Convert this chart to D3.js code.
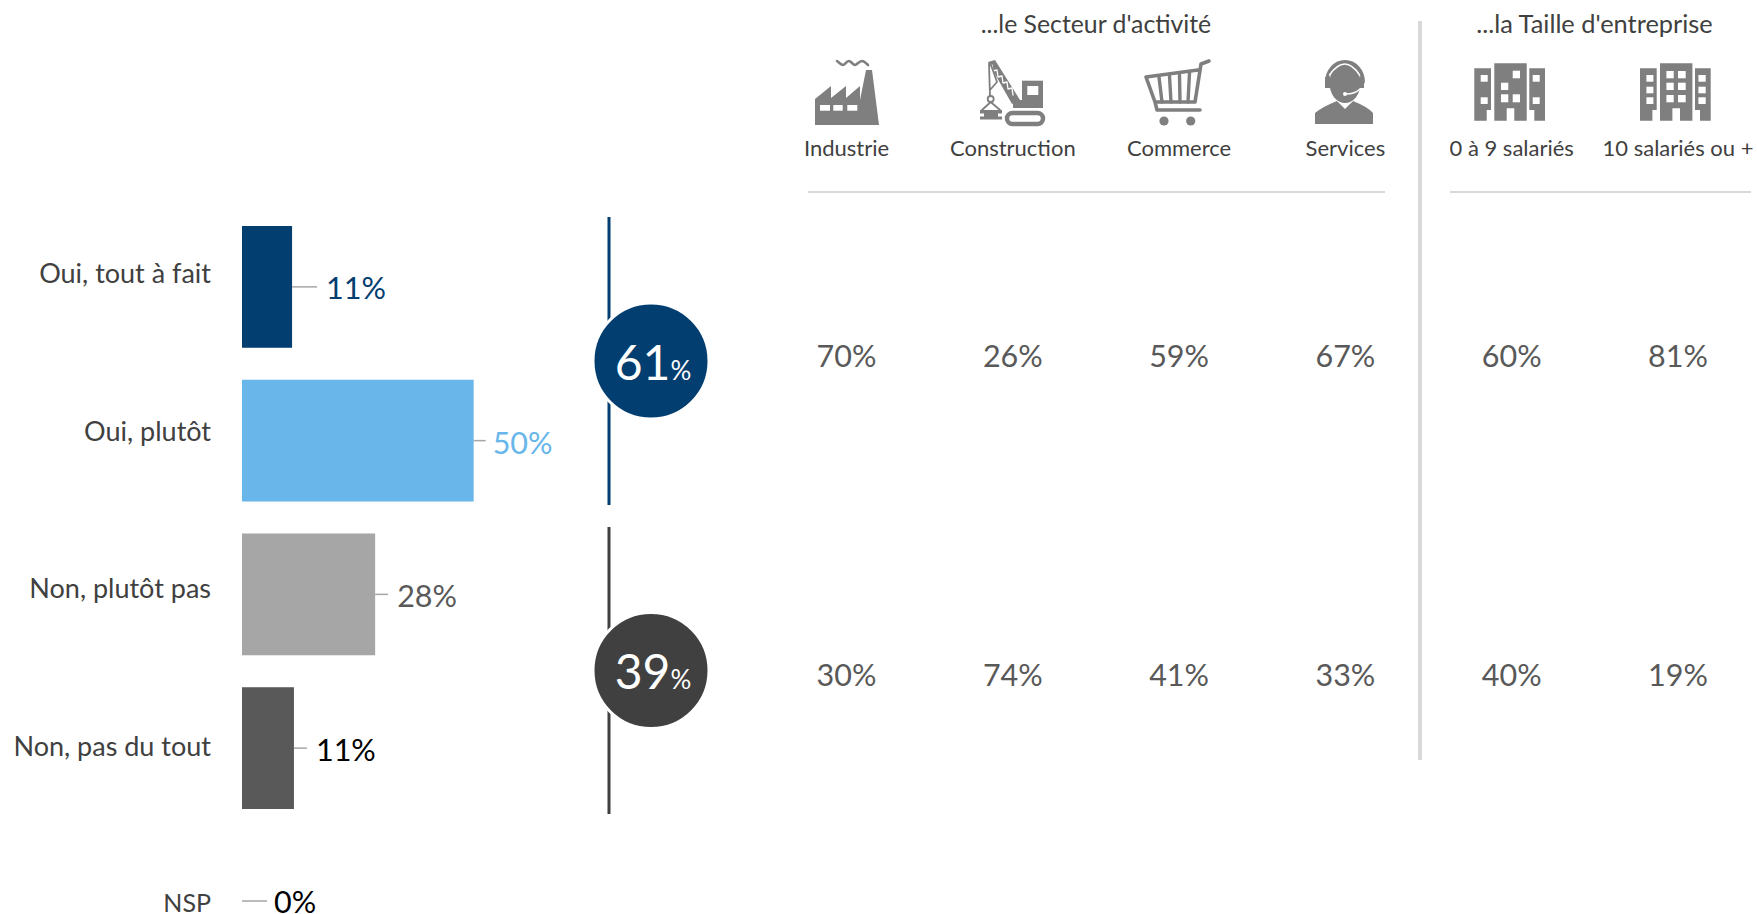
<!DOCTYPE html>
<html>
<head>
<meta charset="utf-8">
<script src="https://cdn.jsdelivr.net/npm/d3@7"></script>
<style>
  html, body { margin: 0; padding: 0; background: #fff; }
  svg { display: block; }
  text { font-family: Lato, "Open Sans", sans-serif; }
</style>
</head>
<body>
<svg id="chart" width="1757" height="914"></svg>
<script>
var answers = ["Oui, tout à fait", "Oui, plutôt", "Non, plutôt pas", "Non, pas du tout"];
var answerValues = [10.7, 49.5, 28.45, 11.1];
var nspLabel = "NSP";
var nspValue = 0;

var groups = ["Oui", "Non"];
var groupTotals = [61, 39];

var sectors = ["Industrie", "Construction", "Commerce", "Services", "0 à 9 salariés", "10 salariés ou +"];
var ouiBySector = [70, 26, 59, 67, 60, 81];
var nonBySector = [30, 74, 41, 33, 40, 19];

var svg = d3.select("#chart");

var x = d3.scaleLinear().domain([0, 100]).range([242, 710]);
var y = d3.scaleBand().domain(answers).range([226, 809]).paddingInner(0.208);
var col = d3.scalePoint().domain(sectors).range([846.5, 1678]);

var barColors = ["#023e70", "#68b6ea", "#a6a6a6", "#595959"];
var valueColors = ["#023e70", "#68b6ea", "#595959", "#000000"];
var leaderLength = [25, 12, 13, 13];
var labelGap = [9, 7, 9, 9];
var labelY = [274, 432, 589, 747];
var valueY = [288, 443, 596, 750];
var dark = "#404040";
var iconGrey = "#7f7f7f";

// bars
svg.selectAll("rect.bar")
  .data(answers)
  .enter().append("rect")
  .attr("class", "bar")
  .attr("x", x(0))
  .attr("y", function (d) { return y(d); })
  .attr("width", function (d, i) { return x(answerValues[i]) - x(0); })
  .attr("height", y.bandwidth())
  .attr("fill", function (d, i) { return barColors[i]; });

// leader lines
svg.selectAll("line.leader")
  .data(answers)
  .enter().append("line")
  .attr("class", "leader")
  .attr("x1", function (d, i) { return x(answerValues[i]); })
  .attr("x2", function (d, i) { return x(answerValues[i]) + leaderLength[i]; })
  .attr("y1", function (d) { return y(d) + y.bandwidth() / 2; })
  .attr("y2", function (d) { return y(d) + y.bandwidth() / 2; })
  .attr("stroke", "#a6a6a6")
  .attr("stroke-width", 1.5);

// value labels
svg.selectAll("text.value")
  .data(answers)
  .enter().append("text")
  .attr("class", "value")
  .attr("x", function (d, i) { return x(answerValues[i]) + leaderLength[i] + labelGap[i]; })
  .attr("y", function (d, i) { return valueY[i]; })
  .attr("dy", "0.35em")
  .attr("font-size", 30.5)
  .attr("fill", function (d, i) { return valueColors[i]; })
  .text(function (d, i) { return d3.format(".0f")(answerValues[i]) + "%"; });

// category labels
svg.selectAll("text.answer")
  .data(answers)
  .enter().append("text")
  .attr("class", "answer")
  .attr("x", 211)
  .attr("y", function (d, i) { return labelY[i]; })
  .attr("dy", "0.35em")
  .attr("text-anchor", "end")
  .attr("font-size", 27)
  .attr("fill", dark)
  .text(function (d) { return d; });

// NSP row
svg.append("text").attr("x", 211).attr("y", 903).attr("dy", "0.35em")
  .attr("text-anchor", "end").attr("font-size", 25).attr("fill", dark).text(nspLabel);
svg.append("line").attr("x1", x(nspValue)).attr("x2", x(nspValue) + 25)
  .attr("y1", 901).attr("y2", 901)
  .attr("stroke", "#a6a6a6").attr("stroke-width", 1.5);
svg.append("text").attr("x", x(nspValue) + 32).attr("y", 902).attr("dy", "0.35em")
  .attr("font-size", 30.5).attr("fill", "#000").text(d3.format(".0f")(nspValue) + "%");

// total brackets and circles
var bracketTop = [217, 527];
var bracketBottom = [505, 814];
var circleY = [361, 670.5];
var circleColors = ["#023e70", dark];

svg.selectAll("line.bracket")
  .data(groups)
  .enter().append("line")
  .attr("class", "bracket")
  .attr("x1", 609).attr("x2", 609)
  .attr("y1", function (d, i) { return bracketTop[i]; })
  .attr("y2", function (d, i) { return bracketBottom[i]; })
  .attr("stroke", function (d, i) { return circleColors[i]; })
  .attr("stroke-width", 3);

svg.selectAll("circle.total")
  .data(groups)
  .enter().append("circle")
  .attr("class", "total")
  .attr("cx", 651)
  .attr("cy", function (d, i) { return circleY[i]; })
  .attr("r", 58)
  .attr("fill", function (d, i) { return circleColors[i]; })
  .attr("stroke", "#fff")
  .attr("stroke-width", 3);

var totals = svg.selectAll("text.total")
  .data(groups)
  .enter().append("text")
  .attr("class", "total")
  .attr("x", 653)
  .attr("y", function (d, i) { return circleY[i] + 2; })
  .attr("dy", "0.35em")
  .attr("text-anchor", "middle")
  .attr("fill", "#fff")
  .attr("font-size", 48)
  .text(function (d, i) { return groupTotals[i]; });
totals.append("tspan").attr("font-size", 26).text("%");

// table on the right
svg.append("text").attr("x", 1096).attr("y", 24).attr("dy", "0.35em")
  .attr("text-anchor", "middle").attr("font-size", 24.8).attr("fill", dark).text("...le Secteur d'activité");
svg.append("text").attr("x", 1594.5).attr("y", 24).attr("dy", "0.35em")
  .attr("text-anchor", "middle").attr("font-size", 25.4).attr("fill", dark).text("...la Taille d'entreprise");

svg.selectAll("text.sector")
  .data(sectors)
  .enter().append("text")
  .attr("class", "sector")
  .attr("x", function (d) { return col(d); })
  .attr("y", 148)
  .attr("dy", "0.35em")
  .attr("text-anchor", "middle")
  .attr("font-size", 22)
  .attr("fill", dark)
  .text(function (d) { return d; });

[ouiBySector, nonBySector].forEach(function (row, r) {
  svg.selectAll("text.row" + r)
    .data(sectors)
    .enter().append("text")
    .attr("class", "row" + r)
    .attr("x", function (d) { return col(d); })
    .attr("y", r === 0 ? 356 : 675)
    .attr("dy", "0.35em")
    .attr("text-anchor", "middle")
    .attr("font-size", 30.5)
    .attr("fill", "#595959")
    .text(function (d, i) { return row[i] + "%"; });
});

// separators
svg.append("line").attr("x1", 808).attr("x2", 1385).attr("y1", 192).attr("y2", 192)
  .attr("stroke", "#d9d9d9").attr("stroke-width", 2);
svg.append("line").attr("x1", 1450).attr("x2", 1751).attr("y1", 192).attr("y2", 192)
  .attr("stroke", "#d9d9d9").attr("stroke-width", 2);
svg.append("line").attr("x1", 1420).attr("x2", 1420).attr("y1", 21).attr("y2", 760)
  .attr("stroke", "#d9d9d9").attr("stroke-width", 4);

// icons, each drawn in its own 90x90 box
function shape(g, d, fill, stroke, width) {
  return g.append("path").attr("d", d)
    .attr("fill", fill || "none")
    .attr("stroke", stroke || "none")
    .attr("stroke-width", width || 0)
    .attr("stroke-linecap", "round")
    .attr("stroke-linejoin", "round");
}

function box(g, x0, y0, x1, y1, fill) {
  g.append("rect").attr("x", x0).attr("y", y0)
    .attr("width", x1 - x0).attr("height", y1 - y0)
    .attr("fill", fill);
}

function factory(g) {
  shape(g, "M10 75L10 49L26 36L26 48L41 36L41 48L55 36L55 50L61 20L67 20L74 75Z", iconGrey);
  box(g, 15, 55, 25, 60.7, "#fff");
  box(g, 28.3, 55, 37.7, 60.7, "#fff");
  box(g, 42.3, 55, 52.3, 60.7, "#fff");
  shape(g, "M32 11C35 13 36 15 38 15C40 15 41 11 44 11C46 11 48 15 50 15C52 15 54 11 57 11C59 11 61 13 63 15", null, iconGrey, 2.6);
}

function crane(g) {
  // tracks
  g.append("rect").attr("x", 37).attr("y", 63).attr("width", 36).attr("height", 11).attr("rx", 5.5)
    .attr("fill", "none").attr("stroke", iconGrey).attr("stroke-width", 4.5);
  // cab
  box(g, 52, 30.7, 73, 58, iconGrey);
  box(g, 43, 50, 73, 58, iconGrey);
  box(g, 57.3, 36, 68.3, 45, "#fff");
  // boom
  shape(g, "M18 12L25 10L50 50L42 54Z", iconGrey);
  shape(g, "M22 15L23 21L27 20L28 27L32 26L33 33L37 32L38 39L42 38L43 45", null, "#fff", 1.3);
  // cable and hook
  shape(g, "M19 14L20 46M21 15L27 32L20 40", null, iconGrey, 1.8);
  g.append("circle").attr("cx", 20.7).attr("cy", 49).attr("r", 3)
    .attr("fill", "none").attr("stroke", iconGrey).attr("stroke-width", 1.8);
  shape(g, "M12 60L20.7 52L30 60", null, iconGrey, 1.8);
  // load
  box(g, 10, 60, 32, 63.5, iconGrey);
  box(g, 14, 63, 28, 67, iconGrey);
  box(g, 10, 66.5, 32, 69.5, iconGrey);
}

function cart(g) {
  shape(g, "M11 27L63 20M11 27L20 52L60 52M74 11L66 14L60 52M20 52L22 60L65 60", null, iconGrey, 3.6);
  shape(g, "M24 27L27 52M34.5 26L36 52M44.5 25L45 52M54.5 23L53 52", null, iconGrey, 3.4);
  g.append("circle").attr("cx", 29).attr("cy", 71).attr("r", 4.6).attr("fill", iconGrey);
  g.append("circle").attr("cx", 55.7).attr("cy", 71).attr("r", 4.6).attr("fill", iconGrey);
}

function agent(g) {
  shape(g, "M15 74L15 63Q22 57 37 51L45 59L53 51Q68 57 73 63L73 74Z", iconGrey);
  shape(g, "M37 50L45 57L53 50", null, "#fff", 1.1);
  g.append("ellipse").attr("cx", 45).attr("cy", 33).attr("rx", 15.5).attr("ry", 20).attr("fill", iconGrey);
  shape(g, "M27 32A18 20 0 0 1 63 32", null, iconGrey, 3.8);
  box(g, 25, 27, 30, 38, iconGrey);
  box(g, 60, 27, 64, 38, iconGrey);
  shape(g, "M29.5 25Q45 3 59.5 25", null, "#fff", 1.4);
  shape(g, "M46 44Q55 44 60 39", null, "#fff", 1.4);
  g.append("circle").attr("cx", 45).attr("cy", 44).attr("r", 2).attr("fill", "#fff");
}

function buildings(g, dx, windows) {
  var b = g.append("g").attr("transform", "translate(" + dx + ",0)");
  shape(b, "M9.3 18.3H26V60H21.7V70.7H9.3Z", iconGrey);
  shape(b, "M29.3 13.3H61.7V70.7H49.3V58.3H41.7V70.7H29.3Z", iconGrey);
  shape(b, "M64.3 18.3H80V70.7H69.3V60H64.3Z", iconGrey);
  windows.forEach(function (w) { box(b, w[0], w[1], w[2], w[3], "#fff"); });
}

var smallWindows = [
  [15.7, 25, 22.7, 31.7], [15.7, 47.3, 22.7, 54],
  [47.7, 20.7, 55, 28.3], [36, 32.7, 43.3, 40], [36, 44.3, 43.3, 52.3], [47.7, 44.3, 55, 52.3],
  [67.7, 25, 74.7, 31.7], [67.7, 47.3, 74.7, 54]
];
var largeWindows = [
  [15.7, 25, 22.7, 31.7], [15.7, 36.7, 22.7, 43.3], [15.7, 47.3, 22.7, 54],
  [35.7, 21, 43, 28.3], [47.3, 21, 55, 28.3],
  [35.7, 32.7, 43, 40], [47.3, 32.7, 55, 40],
  [35.7, 45, 43, 52.3], [47.3, 45, 55, 52.3],
  [67.7, 25, 75, 31.7], [67.7, 36.7, 75, 43.3], [67.7, 47.3, 75, 54]
];

var iconOrigin = [805, 970, 1135, 1300, 1465, 1630];
var iconDraw = [factory, crane, cart, agent,
  function (g) { buildings(g, 0, smallWindows); },
  function (g) { buildings(g, 0.7, largeWindows); }];

svg.selectAll("g.icon")
  .data(sectors)
  .enter().append("g")
  .attr("class", "icon")
  .attr("transform", function (d, i) { return "translate(" + iconOrigin[i] + ",50)"; })
  .each(function (d, i) { iconDraw[i](d3.select(this)); });
</script>
</body>
</html>
